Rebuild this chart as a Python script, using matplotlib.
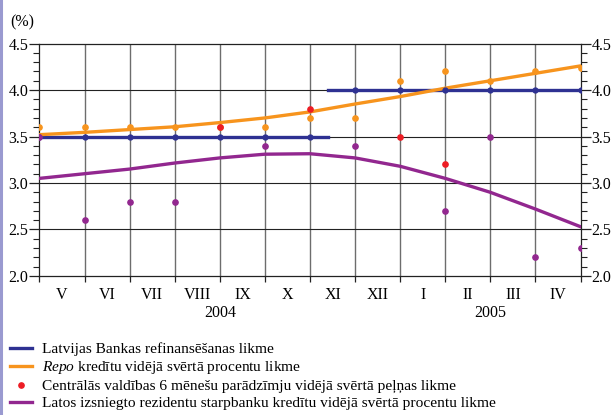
import matplotlib
matplotlib.use('Agg')
import matplotlib.pyplot as plt
from matplotlib.lines import Line2D
import numpy as np

plt.rcParams['font.family'] = ['Liberation Serif', 'DejaVu Serif']
plt.rcParams['mathtext.fontset'] = 'custom'
plt.rcParams['mathtext.rm'] = 'Liberation Serif'
plt.rcParams['mathtext.it'] = 'Liberation Serif:italic'

# month-end positions: 0 = end of IV 2004 ... 12 = end of IV 2005
months = ['V', 'VI', 'VII', 'VIII', 'IX', 'X', 'XI', 'XII', 'I', 'II', 'III', 'IV']
years = ['2004', '2005']
year_centres = [4, 10]
pos = np.arange(13)

# refinancing rate (step on 12 Nov 2004)
refi_x = [0, 6.4, np.nan, 6.4, 12]
refi_y = [3.5, 3.5, np.nan, 4.0, 4.0]
refi_marks = [3.5, 3.5, 3.5, 3.5, 3.5, 3.5, 3.5, 4.0, 4.0, 4.0, 4.0, 4.0, 4.0]

repo = [3.6, 3.6, 3.6, 3.6, 3.6, 3.6, 3.7, 3.7, 4.1, 4.2, 4.1, 4.2, 4.24]
repo_trend = [3.52, 3.545, 3.575, 3.605, 3.65, 3.70, 3.765, 3.85, 3.93, 4.02, 4.10, 4.18, 4.26]

tbill = [np.nan, np.nan, np.nan, np.nan, 3.6, np.nan, 3.8, np.nan, 3.5, 3.2, np.nan, np.nan, np.nan]

interbank = [3.5, 2.6, 2.8, 2.8, np.nan, 3.4, np.nan, 3.4, np.nan, 2.7, 3.5, 2.2, 2.3]
interbank_trend = [3.05, 3.10, 3.15, 3.215, 3.27, 3.31, 3.315, 3.27, 3.18, 3.05, 2.90, 2.72, 2.53]

BLUE = '#2e3192'
ORANGE = '#f7941d'
RED = '#ed1c24'
PURPLE = '#92278f'

fig = plt.figure(figsize=(6.13, 4.15), dpi=100)
ax = fig.add_axes([0.0644, 0.335, 0.8826, 0.56])

ax.plot(refi_x, refi_y, color=BLUE, lw=2.4, zorder=3)
ax.plot(pos, refi_marks, 'o', color=BLUE, ms=3.5, zorder=4)
ax.plot(pos, repo_trend, color=ORANGE, lw=2.4, zorder=3)
ax.plot(pos, interbank_trend, color=PURPLE, lw=2.4, zorder=3)
ax.plot(pos, repo, 'o', color=ORANGE, ms=3.8, zorder=5)
ax.plot(pos, interbank, 'o', color=PURPLE, ms=3.8, zorder=5)
ax.plot(pos, tbill, 'o', color=RED, ms=3.8, zorder=6)

ax.set_xlim(0, 12)
ax.set_ylim(2.0, 4.5)

# grid
for x in range(1, 12):
    ax.axvline(x, color='#6d6d6d', lw=1.0, zorder=1)
for y in [2.5, 3.0, 3.5, 4.0]:
    ax.axhline(y, color='#222222', lw=0.8, zorder=1)

for s in ax.spines.values():
    s.set_color('#222222')
    s.set_linewidth(0.9)

ax.set_yticks([2.0, 2.5, 3.0, 3.5, 4.0, 4.5])
ax.set_yticklabels(['2.0', '2.5', '3.0', '3.5', '4.0', '4.5'])
ax.set_yticks(np.arange(2.0, 4.51, 0.1), minor=True)
ax.tick_params(axis='y', which='both', left=True, right=True, labelleft=True,
               labelright=True, direction='out', color='#222222', labelsize=11.5, pad=1)
ax.tick_params(axis='y', which='major', length=7, width=0.9)
ax.tick_params(axis='y', which='minor', length=4.5, width=0.8)

ax.set_xticks(pos)
ax.set_xticklabels([])
ax.set_xticks(pos[:-1] + 0.5, minor=True)
ax.set_xticklabels(months, minor=True)
ax.tick_params(axis='x', which='major', direction='out', length=4, width=0.9, color='#222222')
ax.tick_params(axis='x', which='minor', length=0, labelsize=11.5, pad=8)

for yr, xc in zip(years, year_centres):
    ax.text(xc, -0.125, yr, transform=ax.get_xaxis_transform(), ha='center',
            va='top', fontsize=11.5)

fig.text(0.017, 0.947, '(%)', fontsize=11.5, va='center', ha='left')

# left border line
fig.add_artist(Line2D([0.002, 0.002], [0, 1], color='#9a9ad0', lw=2.2))

handles = [
    Line2D([], [], color=BLUE, lw=2.4),
    Line2D([], [], color=ORANGE, lw=2.4),
    Line2D([], [], color=RED, marker='o', ls='none', ms=3.8),
    Line2D([], [], color=PURPLE, lw=2.4),
]
labels = [
    'Latvijas Bankas refinansēšanas likme',
    r'$\it{Repo}$ kredītu vidējā svērtā procentu likme',
    'Centrālās valdības 6 mēnešu parādzīmju vidējā svērtā peļņas likme',
    'Latos izsniegto rezidentu starpbanku kredītu vidējā svērtā procentu likme',
]
fig.legend(handles, labels, loc='upper left', bbox_to_anchor=(0.0163, 0.175),
           frameon=False, fontsize=11.1, handlelength=1.45, handletextpad=0.65,
           labelspacing=0.2, borderpad=0, borderaxespad=0)

fig.savefig('out.png', dpi=100)
